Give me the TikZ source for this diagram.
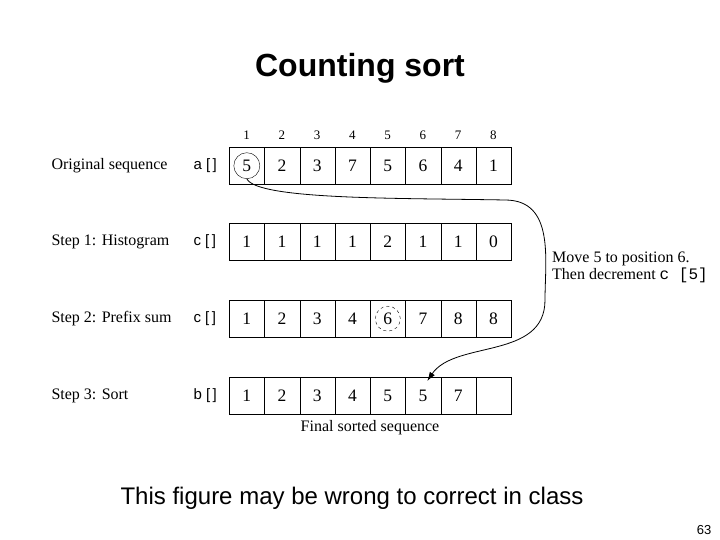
\documentclass[tikz,border=0pt]{standalone}
\usepackage{fontspec}
\setmainfont{Liberation Serif}
\newfontfamily\helv{Liberation Sans}
\newfontfamily\cour{Liberation Mono}
\usetikzlibrary{arrows.meta, positioning, calc}

\begin{document}
\begin{tikzpicture}[x=1pt, y=-1pt,
  cell/.style={draw, minimum width=35.25pt, minimum height=37pt, inner sep=0pt, font=\fontsize{17.5}{19}\selectfont, anchor=north west},
  rowlabel/.style={anchor=west, font=\fontsize{16}{18}\selectfont},
  arrname/.style={anchor=west, font=\helv\fontsize{15}{17}\selectfont}]
  \useasboundingbox (0,0) rectangle (720,540);
  \node[font=\helv\bfseries\fontsize{32}{36}\selectfont] (title) at (360,68) {Counting sort};

  % column indices
  \foreach \i in {1,...,8}
    \node[font=\fontsize{13}{15}\selectfont] (idx\i) at ({229+35.25*(\i-0.5)},135) {\i};

  % rows
  \foreach \r/\y/\lab/\arr/\vals in {
      1/147/Original sequence/a/{5,2,3,7,5,6,4,1},
      2/223/{Step 1: Histogram}/c/{1,1,1,1,2,1,1,0},
      3/300/{Step 2: Prefix sum}/c/{1,2,3,4,6,7,8,8},
      4/377/{Step 3: Sort}/b/{1,2,3,4,5,5,7,{}}}{
    \node[rowlabel] (lab\r) at (48,{\y+18.5}) {\lab};
    \node[arrname] (arr\r) at (190,{\y+18.5}) {\arr\ [\,]};
    \foreach \v [count=\i] in \vals
      \node[cell] (c\r-\i) at ({229+35.25*(\i-1)},\y) {\v};
  }

  \node[font=\fontsize{16}{18}\selectfont] (final) at (370,428) {Final sorted sequence};

  % circles
  \node[draw, circle, minimum size=26pt] (src) at (c1-1.center) {};
  \node[draw, circle, dashed, minimum size=25pt] (cnt) at (c3-5.center) {};

  % move arrow
  \coordinate (dst) at ($(c4-6.north west)+(22,4)$);
  \draw[-{Latex[length=9pt,width=6pt]}, thick] (src.south)
    .. controls (258,200) and (400,198) .. (505,200)
    .. controls (555,200) and (545,260) .. (545,300)
    .. controls (545,360) and (455,340) .. (dst);

  \node[anchor=north west, align=left, font=\fontsize{16}{17}\selectfont, inner sep=0pt] (note) at (552,252)
    {Move 5 to position 6.\\Then decrement {\cour c [5]}};

  \node[font=\helv\fontsize{24}{26}\selectfont] (remark) at (352,498) {This figure may be wrong to correct in class};
  \node[font=\helv\fontsize{13}{15}\selectfont] (page) at (704,530) {63};
\end{tikzpicture}
\end{document}
